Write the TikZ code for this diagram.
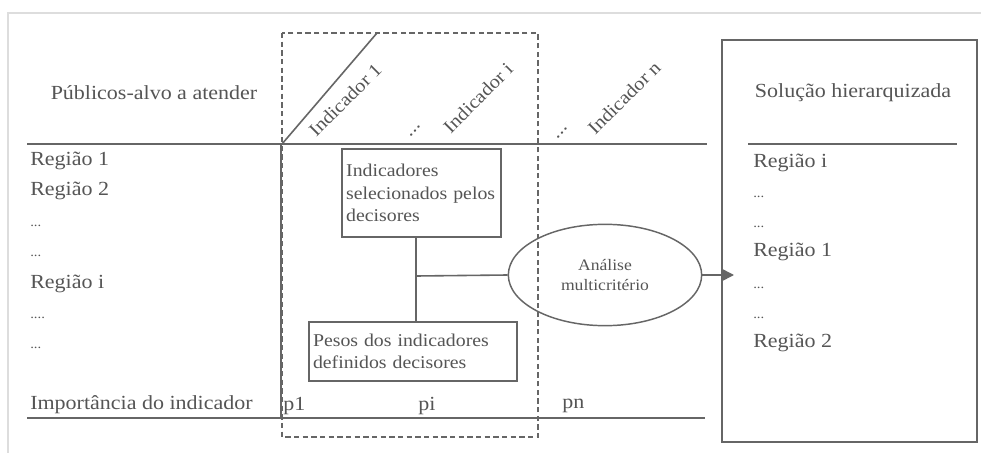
\documentclass[tikz,border=0pt]{standalone}
\usepackage{fontspec}
\setmainfont[FakeStretch=1.1]{Liberation Serif}
\usetikzlibrary{arrows.meta,shapes.geometric}
\definecolor{txt}{HTML}{555555}
\definecolor{ln}{HTML}{666666}
\definecolor{frame}{HTML}{DDDDDD}
\begin{document}
\begin{tikzpicture}[x=0.75pt,y=-0.75pt,
  lbl/.style={text=txt,font=\fontsize{15}{17}\selectfont,inner sep=0pt,anchor=west},
  dots/.style={text=txt,font=\fontsize{10}{12}\selectfont,inner sep=0pt,anchor=west},
  rot/.style={text=txt,font=\fontsize{14}{16}\selectfont,rotate=45,inner sep=0pt},
  boxnode/.style={draw=ln,line width=1.1pt,text=txt,font=\fontsize{13.5}{19}\selectfont,align=left,inner sep=3pt},
  rule/.style={draw=ln,line width=1.2pt}]
\useasboundingbox (0,0) rectangle (981,453);
\fill[white] (0,0) rectangle (981,453);
% faint outer frame
\draw[frame,line width=1.2pt] (8,453) -- (8,13) -- (981,13);
% header
\node[text=txt,font=\fontsize{15}{17}\selectfont,inner sep=0pt] (pub) at (154,93) {Públicos-alvo a atender};
% rules
\draw[rule] (27,144) -- (707,144);
\draw[rule] (27,418) -- (705,418);
\draw[rule] (281,144) -- (281,418);
\draw[rule] (282,144) -- (377,33);
% dashed frame
\draw[ln,line width=1.2pt,dashed,dash pattern=on 4pt off 2.5pt] (282,33) rectangle (538,437);
% rotated indicator labels
\node[rot] (ind1) at (345,100) {Indicador 1};
\node[rot] (dti) at (415,131) {...};
\node[rot] (indi) at (478,98) {Indicador i};
\node[rot] (dtn) at (562,133) {...};
\node[rot] (indn) at (624,98) {Indicador n};
% left list
\node[lbl] (r1) at (30,161) {Região 1};
\node[lbl] (r2) at (30,191) {Região 2};
\node[dots] (d1) at (30,226) {...};
\node[dots] (d2) at (30,256) {...};
\node[lbl] (ri) at (30,284) {Região i};
\node[dots] (d3) at (30,318) {....};
\node[dots] (d4) at (30,348) {...};
\node[lbl] (imp) at (30,405) {Importância do indicador};
\node[lbl] (p1) at (283,406) {p1};
\node[lbl] (pi) at (418,406) {pi};
\node[lbl] (pn) at (562,406) {pn};
% boxes
\node[boxnode,minimum width=119pt,minimum height=66pt,text width=113pt] (sel) at (421.5,193) {Indicadores\\[-2pt]selecionados pelos\\[-2pt]decisores};
\node[boxnode,minimum width=156pt,minimum height=44pt,text width=150pt] (pes) at (413,351.5) {Pesos dos indicadores\\[-2pt]definidos decisores};
\node[draw=ln,line width=1.1pt,ellipse,minimum width=145pt,minimum height=76pt,text=txt,font=\fontsize{12}{15}\selectfont,align=center,inner sep=0pt] (ana) at (605,275) {Análise\\multicritério};
\coordinate (j) at (416,276);
\draw[rule] (j |- sel.south) -- (j |- pes.north);
\draw[rule] (j) -- (ana.west);
% right box
\node[draw=ln,line width=1.2pt,minimum width=191pt,minimum height=301.5pt,inner sep=0pt] (sol) at (849.5,241) {};
\coordinate (tip) at (734,275);
\draw[rule,-{Triangle[length=9pt,width=9pt]}] (ana.east) -- (tip);
\node[text=txt,font=\fontsize{15}{17}\selectfont,inner sep=0pt] (solt) at (853,93) {Solução hierarquizada};
\draw[rule] (748,144) -- (957,144);
\node[lbl] (s1) at (753,163) {Região i};
\node[dots] (s2) at (753,197) {...};
\node[dots] (s3) at (753,227) {...};
\node[lbl] (s4) at (753,252) {Região 1};
\node[dots] (s5) at (753,288) {...};
\node[dots] (s6) at (753,318) {...};
\node[lbl] (s7) at (753,343) {Região 2};
\end{tikzpicture}
\end{document}
